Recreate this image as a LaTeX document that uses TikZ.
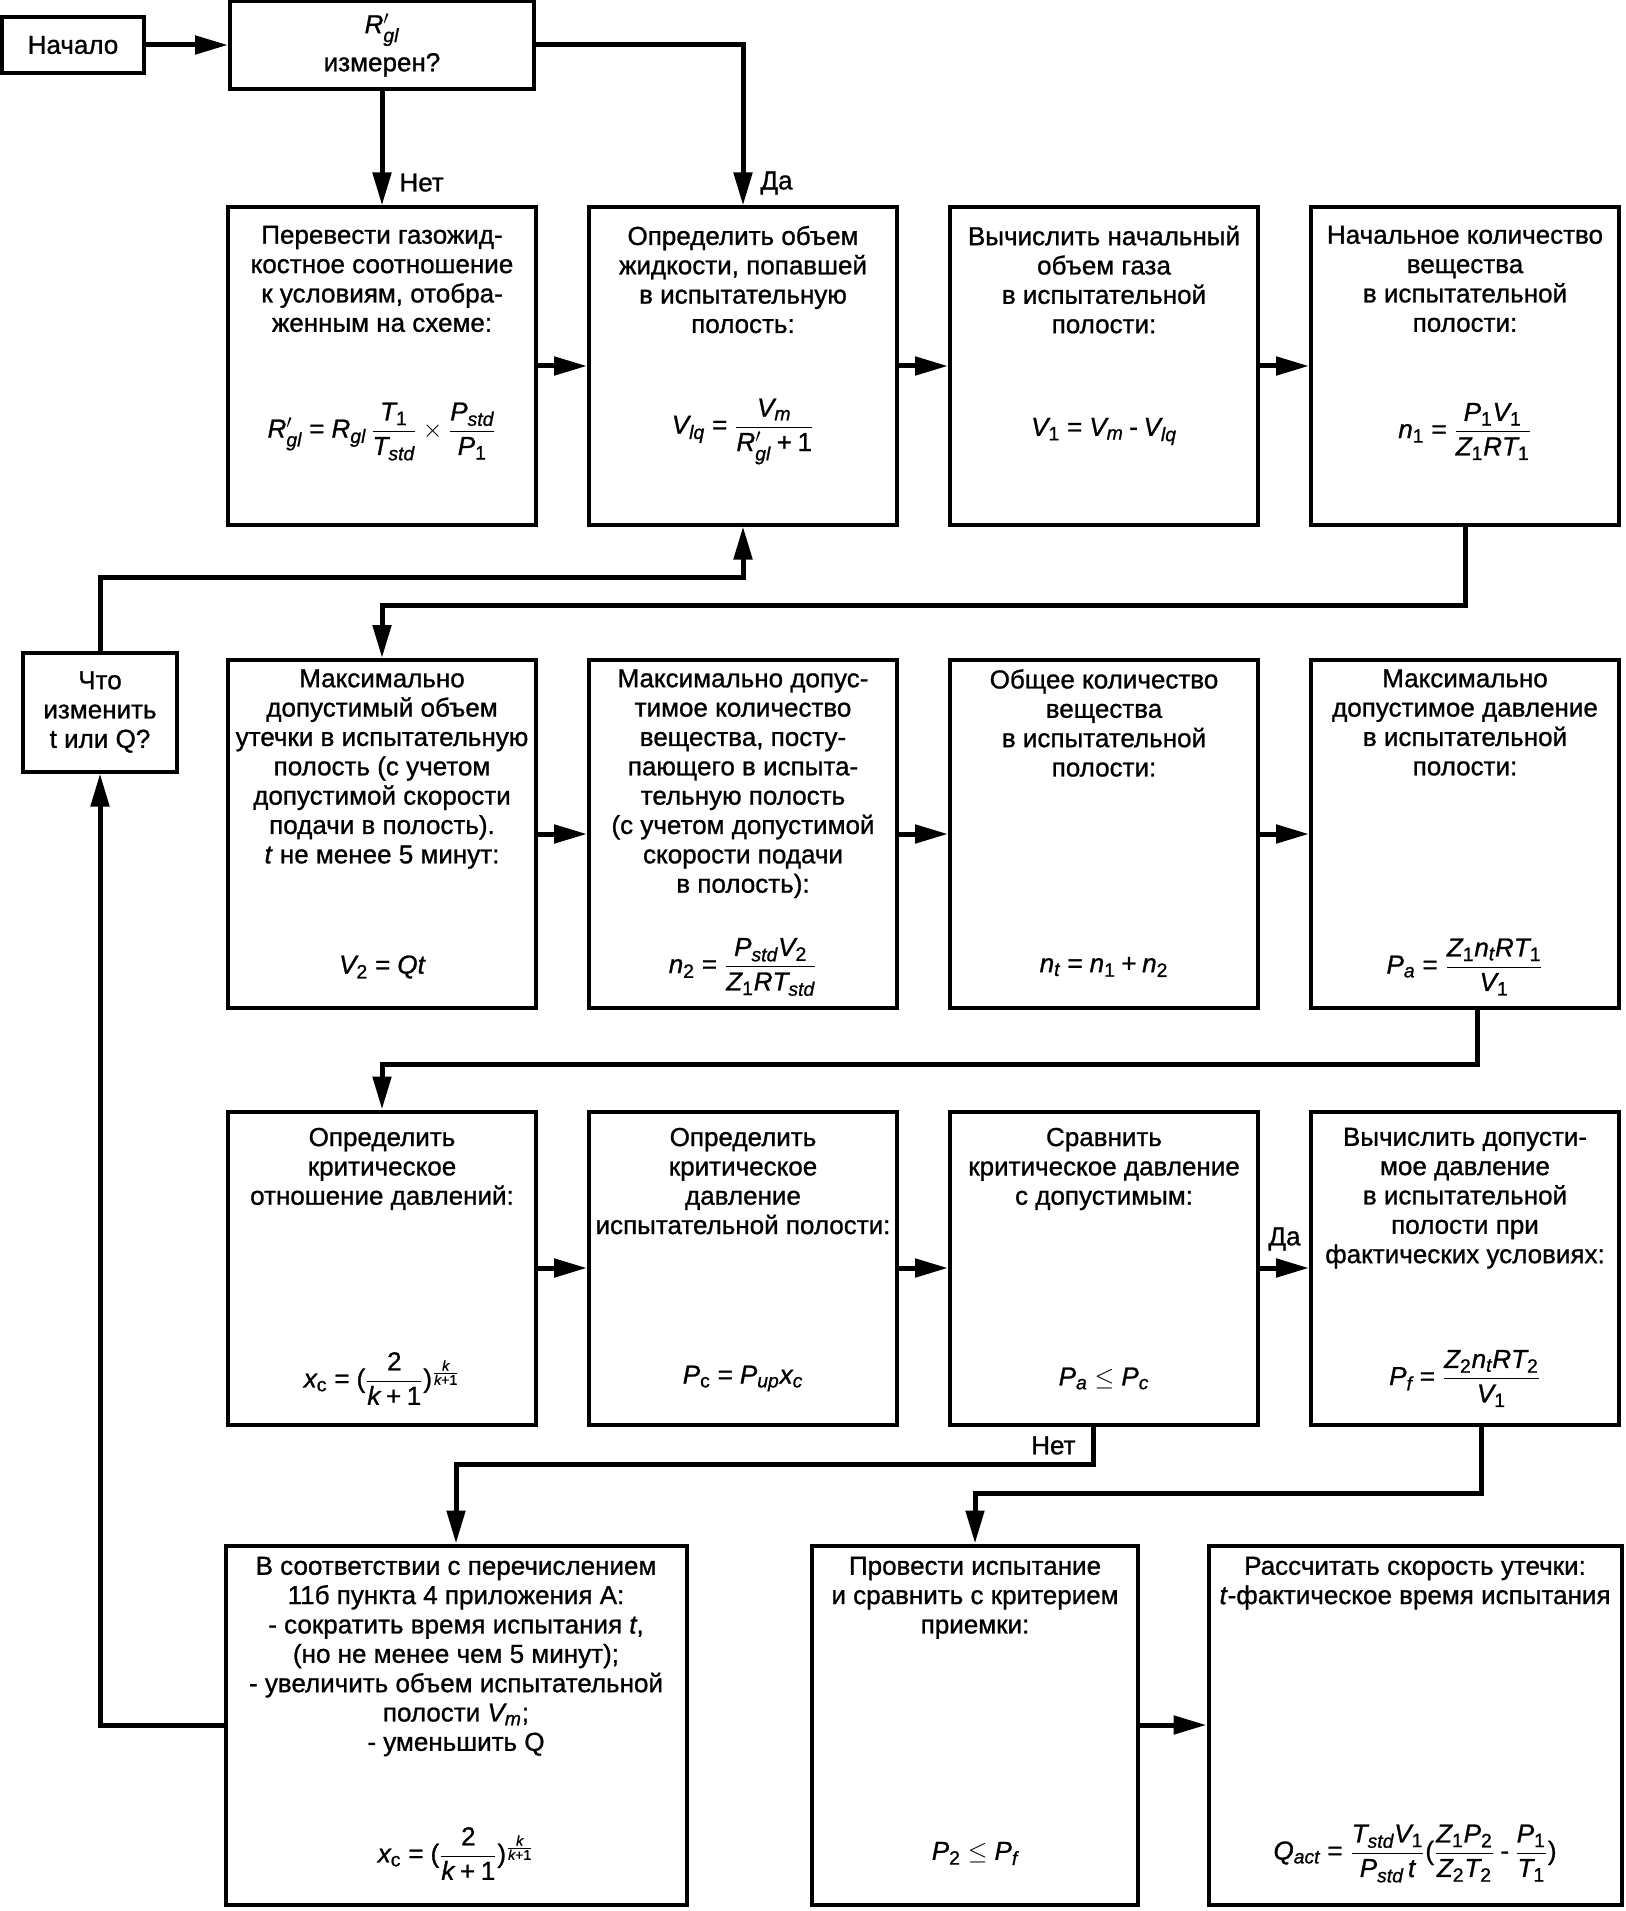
\documentclass[tikz,border=0pt]{standalone}
\usepackage{amsmath}
\usepackage{fontspec}
\setmainfont{Liberation Sans}[NFSSFamily=lsans, FakeBold=1]
\DeclareSymbolFont{operators}{TU}{lsans}{m}{n}
\DeclareSymbolFont{letters}{TU}{lsans}{m}{it}
\DeclareMathSizes{14.8}{14.8}{11}{8}
\AtBeginDocument{%
	\DeclareSymbolFont{operators}{TU}{lsans}{m}{n}
	\DeclareMathSymbol{+}{\mathbin}{operators}{"2B}
	\DeclareMathSymbol{-}{\mathbin}{operators}{"2D}
	\DeclareMathSymbol{=}{\mathrel}{operators}{"3D}
	\DeclareMathSymbol{(}{\mathopen}{operators}{"28}
	\DeclareMathSymbol{)}{\mathclose}{operators}{"29}
	\DeclareMathSymbol{1}{\mathalpha}{operators}{"31}
	\DeclareMathSymbol{2}{\mathalpha}{operators}{"32}
}
\usetikzlibrary{arrows.meta}
\newcommand{\boxfont}{\fontsize{14.8}{16.7}\selectfont}

\begin{document}
\begin{tikzpicture}[x=0.2mm, y=-0.2mm,
	box/.style={draw, line width=0.8mm, inner sep=0pt, align=center, font=\boxfont},
	rowtwo/.style={box, minimum width=61.6mm, minimum height=63.4mm},
	rowthree/.style={box, minimum width=61.6mm, minimum height=69.6mm},
	rowfour/.style={box, minimum width=61.6mm, minimum height=62.6mm},
	rowfive/.style={box, minimum height=71.8mm},
	txt/.style={anchor=north, align=center, inner sep=0pt, font=\boxfont},
	frm/.style={inner sep=0pt, font=\boxfont},
	lbl/.style={inner sep=3mm, font=\boxfont},
	conn/.style={line width=1mm, -{Triangle[length=6.6mm, width=3.6mm]}}]
			\useasboundingbox (0,0) rectangle (1625,1911);
			% first row
			\node[box, minimum width=28.2mm, minimum height=11.2mm] (start) at (73,45) {Начало};
			\node[box, minimum width=60.8mm, minimum height=17.6mm] (meas) at (382,45) {$R'_{gl}$\\[3pt]измерен?};
			% second row
			\node[rowtwo] (ratio) at (382,366) {};
			\node[rowtwo] (liqvol) at (743,366) {};
			\node[rowtwo] (gasvol) at (1104,366) {};
			\node[rowtwo] (amount) at (1465,366) {};
			\node[txt] (ratio-t) at ([yshift=-4mm]ratio.north) {Перевести газожид-\\костное соотношение\\к условиям, отобра-\\женным на схеме:};
			\node[txt] (liqvol-t) at ([yshift=-4mm]liqvol.north) {Определить объем\\жидкости, попавшей\\в испытательную\\полость:};
			\node[txt] (gasvol-t) at ([yshift=-4mm]gasvol.north) {Вычислить начальный\\объем газа\\в испытательной\\полости:};
			\node[txt] (amount-t) at ([yshift=-4mm]amount.north) {Начальное количество\\вещества\\в испытательной\\полости:};
			\node[frm] (ratio-f) at ([yshift=19mm]ratio.south) {$R'_{gl} = R_{gl}\,\dfrac{T_1}{T_{std}} \times \dfrac{P_{std}}{P_1}$};
			\node[frm] (liqvol-f) at ([yshift=19mm]liqvol.south) {$V_{lq} = \dfrac{V_m}{R'_{gl} + 1}$};
			\node[frm] (gasvol-f) at ([yshift=19mm]gasvol.south) {$V_1 = V_m - V_{lq}$};
			\node[frm] (amount-f) at ([yshift=19mm]amount.south) {$n_1 = \dfrac{P_1V_1}{Z_1RT_1}$};
			% third row
			\node[rowthree] (leakvol) at (382,834) {};
			\node[rowthree] (leakamt) at (743,834) {};
			\node[rowthree] (total) at (1104,834) {};
			\node[rowthree] (pmax) at (1465,834) {};
			\node[txt] (leakvol-t) at ([yshift=-2.2mm]leakvol.north) {Максимально\\допустимый объем\\утечки в испытательную\\полость (с учетом\\допустимой скорости\\подачи в полость).\\\textit{t} не менее 5 минут:};
			\node[txt] (leakamt-t) at ([yshift=-2.2mm]leakamt.north) {Максимально допус-\\тимое количество\\вещества, посту-\\пающего в испыта-\\тельную полость\\(с учетом допустимой\\скорости подачи\\в полость):};
			\node[txt] (total-t) at ([yshift=-2.2mm]total.north) {Общее количество\\вещества\\в испытательной\\полости:};
			\node[txt] (pmax-t) at ([yshift=-2.2mm]pmax.north) {Максимально\\допустимое давление\\в испытательной\\полости:};
			\node[frm] (leakvol-f) at ([yshift=8.6mm]leakvol.south) {$V_2 = Qt$};
			\node[frm] (leakamt-f) at ([yshift=8.6mm]leakamt.south) {$n_2 = \dfrac{P_{std}V_2}{Z_1RT_{std}}$};
			\node[frm] (total-f) at ([yshift=8.6mm]total.south) {$n_t = n_1 + n_2$};
			\node[frm] (pmax-f) at ([yshift=8.6mm]pmax.south) {$P_a = \dfrac{Z_1n_tRT_1}{V_1}$};
			% fourth row
			\node[rowfour] (xcrit) at (382,1268) {};
			\node[rowfour] (pcrit) at (743,1268) {};
			\node[rowfour] (compare) at (1104,1268) {};
			\node[rowfour] (pfact) at (1465,1268) {};
			\node[txt] (xcrit-t) at ([yshift=-3.6mm]xcrit.north) {Определить\\критическое\\отношение давлений:};
			\node[txt] (pcrit-t) at ([yshift=-3.6mm]pcrit.north) {Определить\\критическое\\давление\\испытательной полости:};
			\node[txt] (compare-t) at ([yshift=-3.6mm]compare.north) {Сравнить\\критическое давление\\с допустимым:};
			\node[txt] (pfact-t) at ([yshift=-3.6mm]pfact.north) {Вычислить допусти-\\мое давление\\в испытательной\\полости при\\фактических условиях:};
			\node[frm] (xcrit-f) at ([yshift=9.6mm]xcrit.south) {$x_{\mathrm{c}} = (\dfrac{2}{k + 1})^{\frac{k}{k + 1}}$};
			\node[frm] (pcrit-f) at ([yshift=9.6mm]pcrit.south) {$P_{\mathrm{c}} = P_{up}x_c$};
			\node[frm] (compare-f) at ([yshift=9.6mm]compare.south) {$P_a \leq P_c$};
			\node[frm] (pfact-f) at ([yshift=9.6mm]pfact.south) {$P_f = \dfrac{Z_2n_tRT_2}{V_1}$};
			% fifth row
			\node[rowfive, minimum width=92.2mm] (change) at (456,1725) {};
			\node[rowfive, minimum width=65.2mm] (test) at (975,1725) {};
			\node[rowfive, minimum width=82.6mm] (rate) at (1415,1725) {};
			\node[txt] (change-t) at ([yshift=-2.6mm]change.north) {В соответствии с перечислением\\11б пункта 4 приложения А:\\- сократить время испытания \textit{t},\\(но не менее чем 5 минут);\\- увеличить объем испытательной\\полости $V_m$;\\- уменьшить Q};
			\node[txt] (test-t) at ([yshift=-2.6mm]test.north) {Провести испытание\\и сравнить с критерием\\приемки:};
			\node[txt] (rate-t) at ([yshift=-2.6mm]rate.north) {Рассчитать скорость утечки:\\\textit{t}-фактическое время испытания};
			\node[frm] (change-f) at ([yshift=10.6mm]change.south) {$x_{\mathrm{c}} = (\dfrac{2}{k + 1})^{\frac{k}{k + 1}}$};
			\node[frm] (test-f) at ([yshift=10.6mm]test.south) {$P_2 \leq P_f$};
			\node[frm] (rate-f) at ([yshift=10.6mm]rate.south) {$Q_{act} = \dfrac{T_{std}V_1}{P_{std}\,t}(\dfrac{Z_1P_2}{Z_2T_2} - \dfrac{P_1}{T_1})$};
			% side box
			\node[box, minimum width=30.8mm, minimum height=23.8mm] (what) at (100,712) {Что\\изменить\\t или Q?};
			% connectors
			\draw[conn] (start) -- (meas);
			\draw[conn] (meas) -- node[lbl, right, pos=0.8] (no1) {Нет} (ratio);
			\draw[conn] (meas.east) -| node[lbl, right, pos=0.93] (yes1) {Да} (liqvol.north);
			\draw[conn] (ratio) -- (liqvol);
			\draw[conn] (liqvol) -- (gasvol);
			\draw[conn] (gasvol) -- (amount);
			\draw[conn] (amount.south) -- ++(0,79) -| (leakvol.north);
			\draw[conn] (leakvol) -- (leakamt);
			\draw[conn] (leakamt) -- (total);
			\draw[conn] (total) -- (pmax);
			\draw[conn] ([xshift=2.4mm]pmax.south) -- ++(0,54) -| (xcrit.north);
			\draw[conn] (xcrit) -- (pcrit);
			\draw[conn] (pcrit) -- (compare);
			\draw[conn] (compare) -- node[lbl, above] (yes2) {Да} (pfact);
			\draw[conn] ([xshift=-2.2mm]compare.south) -- node[lbl, left] (no2) {Нет} ++(0,38) -| (change.north);
			\draw[conn] ([xshift=3.2mm]pfact.south) -- ++(0,67) -| (test.north);
			\draw[conn] (test) -- (rate);
			\draw[conn] (change.west) -| (what.south);
			\draw[conn] (what.north) -- ++(0,-73) -| (liqvol.south);
		\end{tikzpicture}
\end{document}
